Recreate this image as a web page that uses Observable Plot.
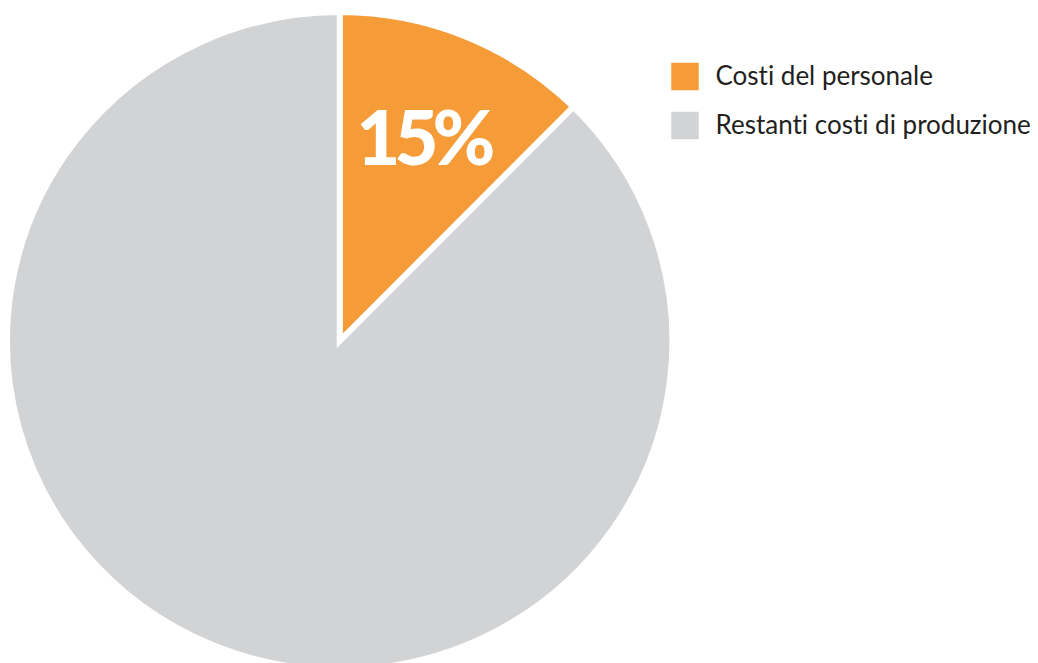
<!DOCTYPE html>
<html>
<head>
<meta charset="utf-8">
<script src="https://cdn.jsdelivr.net/npm/d3@7"></script>
<script src="https://cdn.jsdelivr.net/npm/@observablehq/plot@0.6"></script>
<style>
  html, body { margin: 0; padding: 0; background: #fff; }
  svg { display: block; font-variant-ligatures: none; }
</style>
</head>
<body>
<div id="chart"></div>
<script>
// Data
const categories = ["Costi del personale", "Restanti costi di produzione"];
const values = [12.4, 87.6];
const sliceLabels = ["15%", ""];
const colors = ["#F59B38", "#D2D3D5"];

const slices = categories.map((c, i) => ({category: c, value: values[i], label: sliceLabels[i]}));

const W = 1038, H = 663;
const font = "Lato, 'Open Sans', sans-serif";

function pieMark(data, {cx, cy, rx, ry, gap, labelR}) {
  return (index, scales, vals, dimensions, context) => {
    const X = scales.x(cx), Y = scales.y(cy);
    const RX = scales.x(cx + rx) - X;
    const RY = scales.y(cy + ry) - Y;
    const k = RY / RX;
    const arcs = d3.pie().value(d => d.value).sort(null)(data);
    const arc = d3.arc().innerRadius(0).outerRadius(RX + gap / 2);
    const lab = d3.arc().innerRadius(labelR * RX).outerRadius(labelR * RX);
    const root = d3.create("svg:g").attr("transform", `translate(${X},${Y})`);
    const g = root.append("g").attr("transform", `scale(1,${k})`);
    arcs.forEach(a => {
      g.append("path")
        .attr("d", arc(a))
        .attr("fill", scales.color(a.data.category))
        .attr("stroke", "#fff")
        .attr("stroke-width", gap)
        .attr("stroke-linejoin", "miter")
        .attr("vector-effect", "non-scaling-stroke");
    });
    arcs.forEach(a => {
      if (!a.data.label) return;
      const [lx, ly] = lab.centroid(a);
      root.append("text")
        .attr("x", lx - 2).attr("y", ly * k)
        .attr("text-anchor", "middle")
        .attr("dominant-baseline", "central")
        .attr("fill", "#fff")
        .attr("font-family", font)
        .attr("font-weight", 900)
        .attr("font-size", 76)
        .attr("letter-spacing", -6)
        .text(a.data.label);
    });
    return root.node();
  };
}

const legendY = [76, 125];

const chart = Plot.plot({
  width: W,
  height: H,
  margin: 0,
  x: {domain: [0, W], range: [0, W], axis: null},
  y: {domain: [0, H], range: [0, H], axis: null},
  color: {domain: categories, range: colors},
  style: {background: "#fff", fontFamily: font},
  marks: [
    pieMark(slices, {cx: 339.7, cy: 341, rx: 329.7, ry: 326, gap: 6, labelR: 0.68}),
    Plot.dot(slices, {
      x: () => 684.5,
      y: (d, i) => legendY[i],
      fill: "category",
      symbol: "square",
      r: 15.5,
      stroke: null
    }),
    Plot.text(slices, {
      x: () => 715,
      y: (d, i) => legendY[i],
      text: "category",
      textAnchor: "start",
      fontSize: 26,
      fill: "#231F20",
      fontFamily: font
    })
  ]
});
document.getElementById("chart").append(chart);
</script>
</body>
</html>
